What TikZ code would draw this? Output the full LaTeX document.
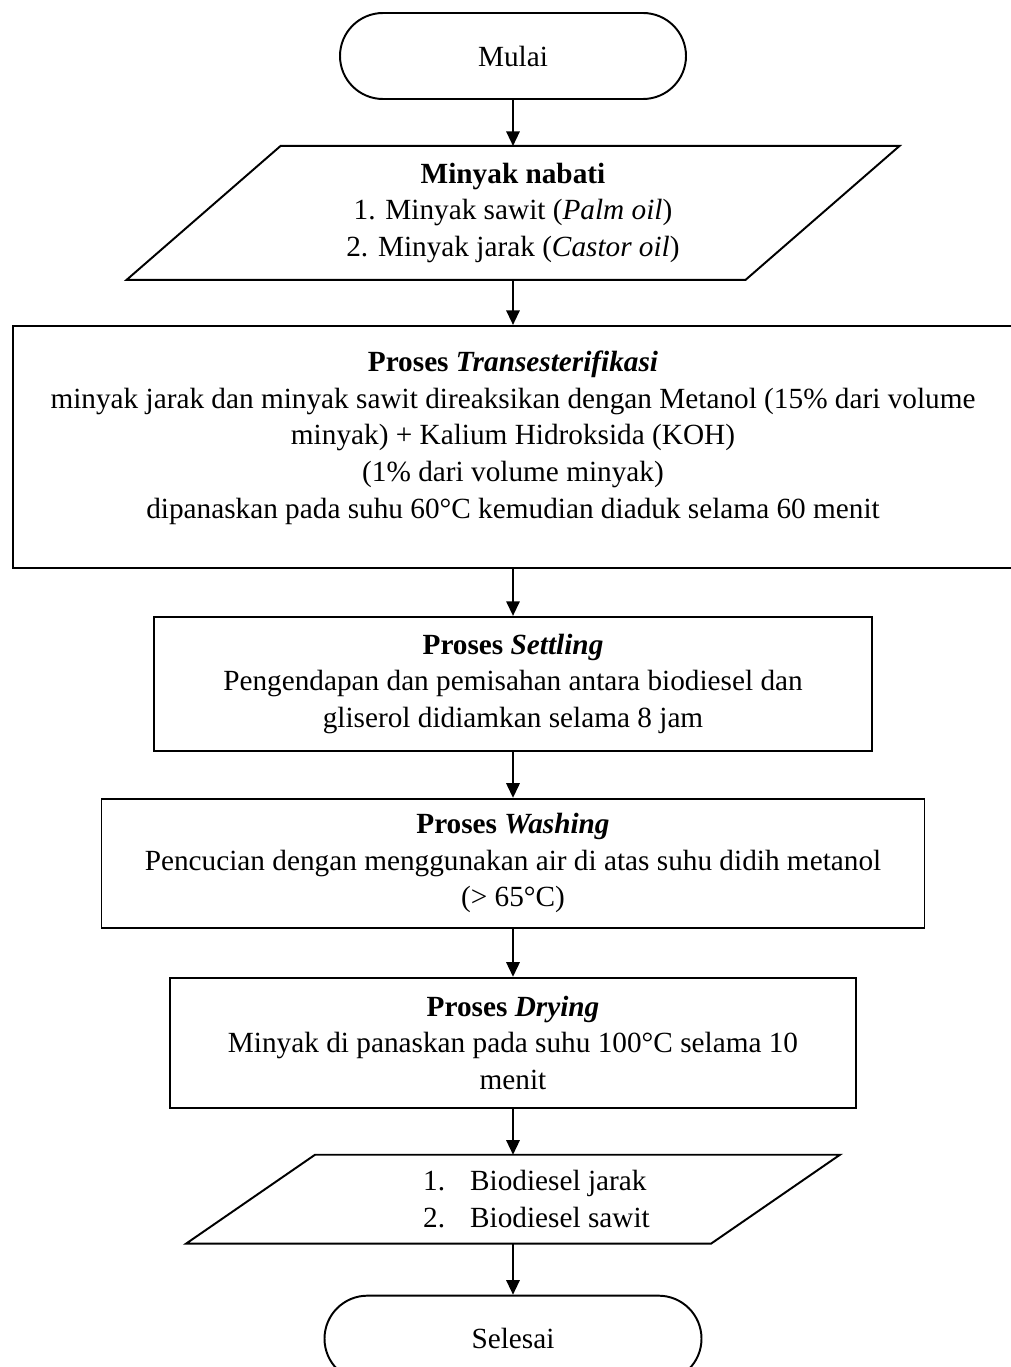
\documentclass[tikz,border=0pt]{standalone}
\usepackage{fontspec}
\setmainfont{Liberation Serif}
\usetikzlibrary{arrows.meta,positioning}
\newlength{\pxu}
\setlength{\pxu}{0.41pt}

\begin{document}
\begin{tikzpicture}[x=\pxu, y=-\pxu, node distance=46\pxu, line width=0.8pt,
  font=\fontsize{12pt}{15pt}\selectfont, >={Triangle[length=6pt,width=5.5pt]},
  terminal/.style={draw, rectangle, rounded corners=43\pxu, minimum height=86\pxu},
  inout/.style={rectangle, align=center},
  process/.style={draw, rectangle, align=center}]
\useasboundingbox (0,0) rectangle (1010,1367);
\node (mulai) [terminal, minimum width=346\pxu] at (513,56) {Mulai};
\node (input) [inout, minimum width=617\pxu, minimum height=132\pxu, below=of mulai] {\textbf{Minyak nabati}\\1. Minyak sawit (\textit{Palm oil})\\2. Minyak jarak (\textit{Castor oil})};
\node (trans) [process, minimum width=1000\pxu, minimum height=242\pxu, below=45\pxu of input] {\textbf{Proses \textit{Transesterifikasi}}\\minyak jarak dan minyak sawit direaksikan dengan Metanol (15\% dari volume\\minyak) + Kalium Hidroksida (KOH)\\(1\% dari volume minyak)\\dipanaskan pada suhu 60°C kemudian diaduk selama 60 menit\\[-4.9pt]\mbox{}};
\node (settling) [process, minimum width=718\pxu, minimum height=134\pxu, below=47\pxu of trans] {\textbf{Proses \textit{Settling}}\\Pengendapan dan pemisahan antara biodiesel dan\\gliserol didiamkan selama 8 jam};
\node (washing) [process, minimum width=823\pxu, minimum height=129\pxu, below=of settling] {\textbf{Proses \textit{Washing}}\\Pencucian dengan menggunakan air di atas suhu didih metanol\\(> 65°C)};
\node (drying) [process, minimum width=686\pxu, minimum height=130\pxu, below=48\pxu of washing] {\textbf{Proses \textit{Drying}}\\Minyak di panaskan pada suhu 100°C selama 10\\menit};
\node (output) [inout, align=left, minimum width=523\pxu, minimum height=87\pxu, below=of drying] {\hspace*{47\pxu}\makebox[47\pxu][l]{1.}Biodiesel jarak\\\hspace*{47\pxu}\makebox[47\pxu][l]{2.}Biodiesel sawit};
\node (selesai) [terminal, minimum width=377\pxu, below=51\pxu of output] {Selesai};
\draw ([xshift=77\pxu]input.north west) -- ([xshift=77\pxu]input.north east) -- ([xshift=-77\pxu]input.south east) -- ([xshift=-77\pxu]input.south west) -- cycle;
\draw ([xshift=64.5\pxu]output.north west) -- ([xshift=64.5\pxu]output.north east) -- ([xshift=-64.5\pxu]output.south east) -- ([xshift=-64.5\pxu]output.south west) -- cycle;
\draw[->] (mulai) -- (input);
\draw[->] (input) -- (trans);
\draw[->] (trans) -- (settling);
\draw[->] (settling) -- (washing);
\draw[->] (washing) -- (drying);
\draw[->] (drying) -- (output);
\draw[->] (output) -- (selesai);
\end{tikzpicture}
\end{document}
